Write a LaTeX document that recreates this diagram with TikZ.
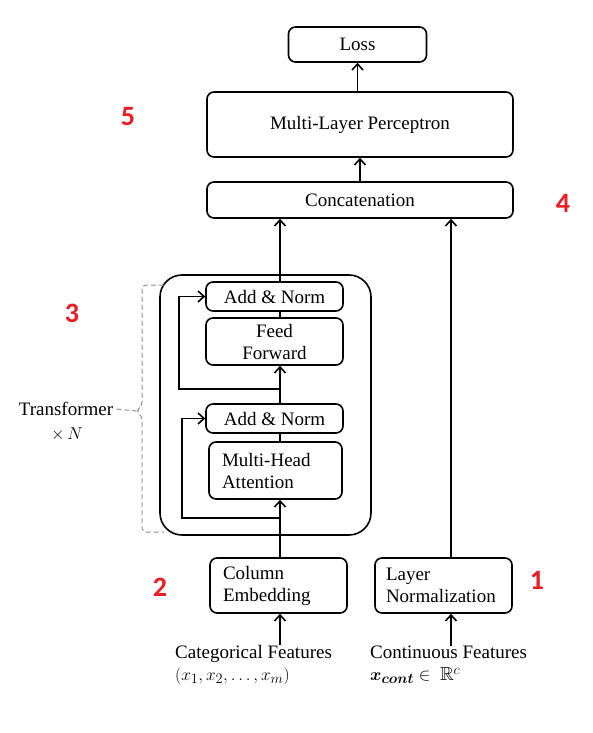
\documentclass[tikz,border=0pt]{standalone}
\usepackage{amsmath,amssymb,bm}
\usepackage{fontspec}
\setmainfont{Liberation Serif}
\newfontfamily\numfont{Carlito}
\usetikzlibrary{arrows.meta}
\definecolor{numred}{RGB}{235,28,36}
\tikzset{
  blk/.style={draw, rounded corners=7pt, line width=1.6pt, inner sep=0pt, align=center},
  lblk/.style={blk, align=left, inner xsep=13pt, inner ysep=0pt},
  conn/.style={line width=1.6pt},
  brk/.style={draw=gray!85, dash pattern=on 5pt off 3pt, line width=1pt},
  num/.style={text=numred, font=\numfont\bfseries\fontsize{28}{28}\selectfont},
}
\begin{document}
\begin{tikzpicture}[x=1pt,y=-1pt,>={Straight Barb[length=6pt,width=11pt,line width=1.6pt]},
    font=\fontsize{19}{22}\selectfont]
  \useasboundingbox (0,0) rectangle (593,733);
  % spines the connectors run along
  \coordinate (spine) at (280,0);
  \coordinate (rspine) at (451,0);

  % transformer block
  \node[blk, rounded corners=22pt, minimum width=211pt, minimum height=260pt] (trf) at (265.5,405) {};
  \node[blk, minimum width=137pt, minimum height=29pt] (addA) at (274.5,296.5) {Add \& Norm};
  \node[blk, minimum width=137pt, minimum height=47pt] (ff) at (274.5,341.5) {Feed\\Forward};
  \node[blk, minimum width=137pt, minimum height=29pt] (addB) at (274.5,418.5) {Add \& Norm};
  \node[lblk, text width=107pt, minimum height=57pt] (mha) at (275.5,470.5) {Multi-Head\\Attention};

  % head
  \node[blk, minimum width=138pt, minimum height=35pt] (loss) at (357.5,44.5) {Loss};
  \node[blk, minimum width=306pt, minimum height=65pt] (mlp) at (360,124.5) {Multi-Layer Perceptron};
  \node[blk, minimum width=306pt, minimum height=36pt] (concat) at (360,200) {Concatenation};

  % input side
  \node[lblk, text width=111pt, minimum height=55pt] (colemb) at (278.5,585.5) {Column\\Embedding};
  \node[lblk, inner xsep=11pt, text width=115pt, minimum height=55pt] (lnorm) at (443.5,585.5) {Layer\\Normalization};
  \node[anchor=west, align=left, inner sep=0pt] (catin) at (175,665)
    {Categorical Features\\$(x_1, x_2, \ldots, x_m)$};
  \node[anchor=west, align=left, inner sep=0pt] (conin) at (370,665)
    {Continuous Features\\$\bm{x}_{\bm{cont}} \in\ \mathbb{R}^c$};

  % connectors
  \draw[conn,->] (catin.north -| spine) -- (colemb.south -| spine);
  \draw[conn,->] (conin.north -| rspine) -- (lnorm.south -| rspine);
  \draw[conn,->] (colemb.north -| spine) -- (mha.south -| spine);
  \draw[conn] (mha.north -| spine) -- (addB.south -| spine);
  \draw[conn,->] (addB.north -| spine) -- (ff.south -| spine);
  \draw[conn] (ff.north -| spine) -- (addA.south -| spine);
  \draw[conn,->] (addA.north -| spine) -- (concat.south -| spine);
  \draw[conn,->] (lnorm.north -| rspine) -- (concat.south -| rspine);
  \draw[conn,->] (concat.north -| mlp) -- (mlp.south);
  \draw[conn,->] (mlp.north -| loss) -- (loss.south);
  % residuals
  \coordinate (resA) at (280,389);
  \coordinate (resB) at (280,518);
  \draw[conn,->] (resA) -- ++(-101,0) |- (addA.west);
  \draw[conn,->] (resB) -- ++(-98,0) |- (addB.west);

  % dashed bracket
  \coordinate (tip) at (136,411);
  \draw[brk, rounded corners=4pt] (164,285) -- (142,285) -- (142,406) -- (tip) -- (142,416) -- (142,532) -- (164,532);
  \node[inner sep=0pt] (tf) at (66,409) {Transformer};
  \node[inner sep=0pt] (tfn) at (67,434) {$\times\, N$};
  \draw[brk] (tf.east) ++(3,0) -- (tip);

  % step numbers
  \node[num] (n5) at (128,117) {5};
  \node[num] (n4) at (563,203) {4};
  \node[num] (n3) at (72,313) {3};
  \node[num] (n2) at (160,587) {2};
  \node[num] (n1) at (537,580) {1};
\end{tikzpicture}
\end{document}
